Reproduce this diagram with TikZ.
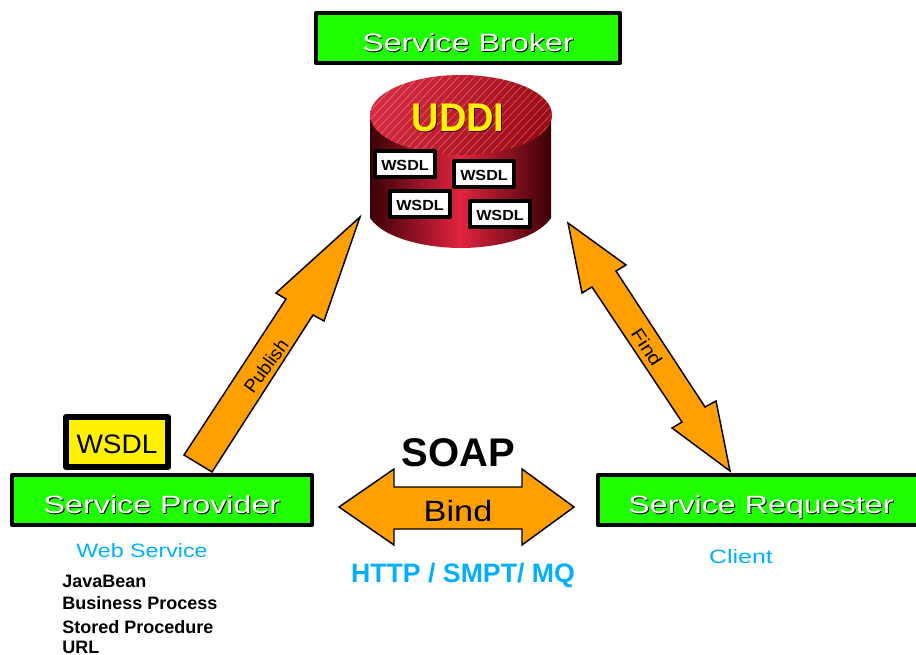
\documentclass[tikz,border=0pt]{standalone}
\usepackage{fontspec}
\setmainfont{Liberation Sans}
\newfontfamily\widefont[FakeStretch=1.29]{Liberation Sans}
\newfontfamily\midfont[FakeStretch=1.17]{Liberation Sans}
\newfontfamily\webfont[FakeStretch=1.2]{Liberation Sans}
\newfontfamily\yelfont[FakeStretch=1.05]{Liberation Sans}
\newfontfamily\smallbold[FakeStretch=1.1]{Liberation Sans Bold}
\newfontfamily\uddifont[FakeStretch=.95]{Liberation Sans Bold}
\definecolor{boxgreen}{HTML}{20FF00}
\definecolor{arroworange}{HTML}{FF9F00}
\definecolor{netblue}{HTML}{00B0FF}
\definecolor{dbdark}{HTML}{3C0006}
\definecolor{dbmid}{HTML}{E0243E}
\definecolor{toplight}{HTML}{D52B42}
\definecolor{topdark}{HTML}{9E0A16}
\newcommand{\shadowed}[2]{\leavevmode\rlap{\kern.7pt\raisebox{-.7pt}{\textcolor{#2}{#1}}}#1}
\tikzset{
  x=.75pt, y=-.75pt,
  greenbox/.style={draw=black, fill=boxgreen, line width=3pt, line join=round, inner sep=0pt, minimum height=37.5pt, text height=20pt, text depth=0pt, font=\widefont\fontsize{18.75}{20}\selectfont, text=white},
  yellowbox/.style={draw=black, fill=yellow, line width=4.5pt, line join=round, inner sep=0pt, minimum width=76.5pt, minimum height=37.5pt, text height=16.5pt, text depth=0pt, font=\yelfont\fontsize{20}{22}\selectfont},
  docbox/.style={draw=black, fill=white, line width=3pt, line join=round, inner sep=0pt, minimum width=45pt, minimum height=19.5pt, text height=10.5pt, text depth=0pt, font=\smallbold\fontsize{11}{12}\selectfont},
  blockarrow/.style={draw=black, fill=arroworange, line width=1.1pt, line join=miter},
  arrowlabel/.style={inner sep=0pt, font=\fontsize{14}{16}\selectfont},
  bluelabel/.style={inner sep=0pt, text=netblue},
  listitem/.style={inner sep=0pt, anchor=west, font=\bfseries\fontsize{13.5}{15}\selectfont}
}
\begin{document}
\begin{tikzpicture}
\useasboundingbox (0,0) rectangle (916,655);
% database
\shade[left color=dbdark, right color=dbdark, middle color=dbmid]
  (370,115) -- (370,218) .. controls (385,240) and (430,248) .. (461,248)
  .. controls (492,248) and (536,240) .. (551,218) -- (551,115) -- cycle;
\begin{scope}
  \clip (461,115) ellipse [x radius=91, y radius=40];
  \shade[left color=toplight, right color=topdark, shading angle=65] (370,75) rectangle (552,155);
  \foreach \k in {0,...,34} {
    \draw[white, opacity=.4, line width=.35pt] (300+8*\k,160) -- (385+8*\k,70);
  }
\end{scope}
\node[inner sep=0pt, font=\uddifont\fontsize{30}{32}\selectfont, text=yellow] (uddi) at (458,118) {\shadowed{UDDI}{black!70!red}};
\node[docbox] (w1) at (405,164) {WSDL};
\node[docbox] (w2) at (484,174) {WSDL};
\node[docbox] (w3) at (420,204) {WSDL};
\node[docbox] (w4) at (500,214) {WSDL};
% boxes
\node[greenbox, minimum width=228pt] (broker) at (468,38) {\shadowed{Service Broker}{black}};
\node[yellowbox] (wsdl) at (117,442) {WSDL};
\node[greenbox, minimum width=225pt] (provider) at (162,500) {\shadowed{Service Provider}{black}};
\node[greenbox, minimum width=244.5pt] (requester) at (761,500) {\shadowed{Service Requester}{black}};
% block arrows
\coordinate (pubtip) at (360,217);
\coordinate (findtipa) at (568,223);
\coordinate (findtipb) at (730,471);
\coordinate (bindtipa) at (339,507);
\coordinate (bindtipb) at (574,507);
\draw[blockarrow] (pubtip) -- (324,321) -- (313,315) -- (212,472) -- (184,455) -- (286,299) -- (276,293) -- cycle;
\draw[blockarrow] (findtipa) -- (626,265) -- (616,271) -- (705,407) -- (716,401) -- (findtipb) -- (672,428) -- (682,422) -- (592,287) -- (582,293) -- cycle;
\draw[blockarrow] (bindtipa) -- (394,469) -- (394,487) -- (522,487) -- (522,469) -- (bindtipb) -- (522,545) -- (522,529) -- (394,529) -- (394,545) -- cycle;
\node[arrowlabel, rotate=54] (publish) at (266,366) {Publish};
\node[arrowlabel, rotate=-57, font=\midfont\fontsize{13.5}{15}\selectfont] (find) at (647,347) {Find};
\node[inner sep=0pt, font=\midfont\fontsize{22}{24}\selectfont] (bind) at (458,511) {Bind};
\node[inner sep=0pt, font=\bfseries\fontsize{30}{32}\selectfont] (soap) at (458,453) {SOAP};
\node[bluelabel, font=\bfseries\fontsize{20}{22}\selectfont] (http) at (463,575) {HTTP / SMPT/ MQ};
\node[bluelabel, font=\webfont\fontsize{14.5}{16}\selectfont] (web) at (142,551) {Web Service};
\node[bluelabel, font=\widefont\fontsize{14.5}{16}\selectfont] (client) at (741,557) {Client};
\node[listitem] (l1) at (62,581) {JavaBean};
\node[listitem] (l2) at (62,603) {Business Process};
\node[listitem] (l3) at (62,627) {Stored Procedure};
\node[listitem] (l4) at (62,647) {URL};
\end{tikzpicture}
\end{document}
